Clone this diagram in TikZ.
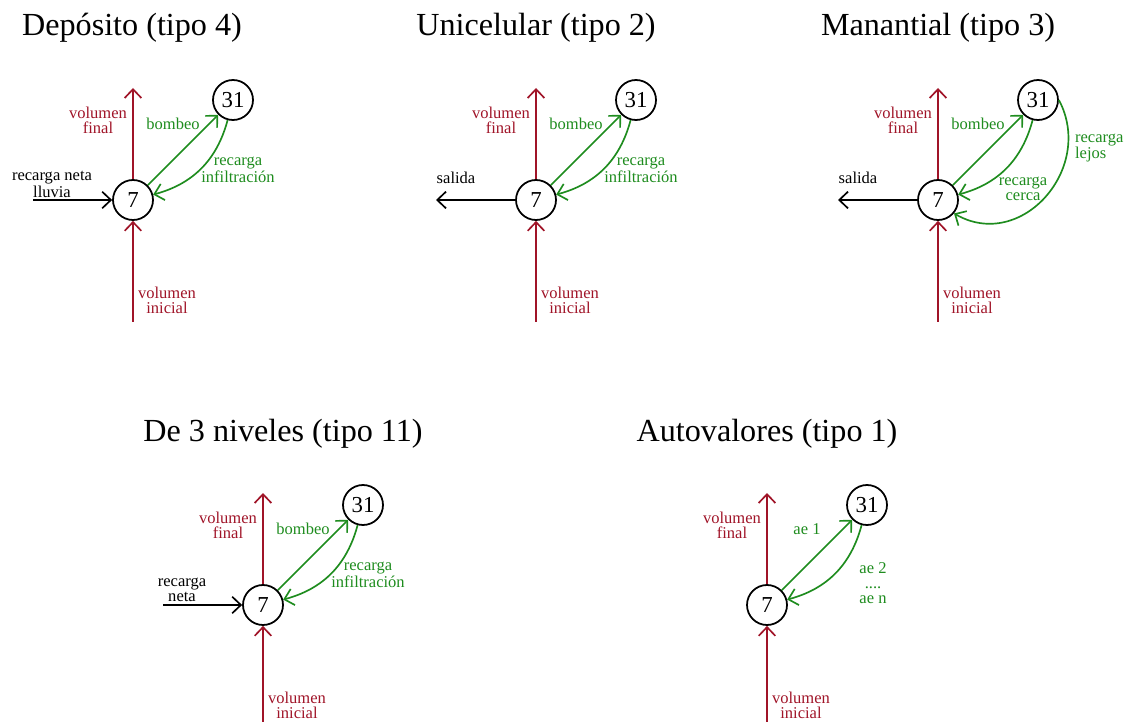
\documentclass[tikz,border=0pt]{standalone}
\usepackage{fontspec}
\setmainfont{Liberation Serif}
\usepackage{xcolor}
\usepackage{tikz}
\usetikzlibrary{positioning, arrows.meta, calc}
\definecolor{VolRed}{RGB}{160,20,40}
\definecolor{FlowGreen}{RGB}{30,140,30}
\tikzset{
  pozo/.style={circle, draw, line width=1pt, minimum size=0.8cm, inner sep=0pt,
    font=\fontsize{13}{14}\selectfont, fill=white},
  volarr/.style={-{Straight Barb[length=5pt,width=9.5pt]}, line width=0.95pt, VolRed},
  flowarr/.style={-{Straight Barb[length=5pt,width=9.5pt]}, line width=0.95pt, FlowGreen},
  netarr/.style={-{Straight Barb[length=5pt,width=9.5pt]}, line width=0.95pt, black},
  lab/.style={font=\fontsize{9.4}{8.5}\selectfont, align=center, inner sep=1pt},
  vollab/.style={lab, text=VolRed},
  flowlab/.style={lab, text=FlowGreen},
  ptitle/.style={font=\fontsize{18.3}{20}\selectfont, anchor=base, inner sep=0pt},
}

\begin{document}
\begin{tikzpicture}
  \useasboundingbox (0,0) rectangle (22.52,-14.44);
  % the five panels: common part
  \foreach \p/\x/\y/\t/\tx/\ua/\ub/\bx/\by in {
      dep/2.66/-4.0/{Depósito (tipo 4)}/-0.02/bombeo/{recarga\\infiltración}/2.10/0.60,
      uni/10.72/-4.0/{Unicelular (tipo 2)}/0/bombeo/{recarga\\infiltración}/2.10/0.60,
      man/18.76/-4.0/{Manantial (tipo 3)}/0/bombeo/{recarga\\cerca}/1.70/0.22,
      niv/5.26/-12.1/{De 3 niveles (tipo 11)}/0.40/bombeo/{recarga\\infiltración}/2.10/0.60,
      aut/15.34/-12.1/{Autovalores (tipo 1)}/0/{ae 1}/{ae 2\\....\\ae n}/2.12/0.44} {
    \begin{scope}[shift={(\x,\y)}]
      \node[ptitle] (\p-title) at (\tx,3.28) {\t};
      \coordinate (\p-ini) at (0,-2.44);
      \coordinate (\p-fin) at (0,2.24);
      \node[pozo] (\p-a) at (0,0) {7};
      \node[pozo] (\p-b) at (2,2) {31};
      \draw[volarr] (\p-ini) -- (\p-a);
      \draw[volarr] (\p-a) -- (\p-fin);
      \draw[flowarr] (\p-a) -- (\p-b);
      \draw[flowarr] (\p-b) to[bend left=30] (\p-a);
      \node[vollab] (\p-vf) at (-0.70,1.60) {volumen\\final};
      \node[vollab] (\p-vi) at (0.68,-2.00) {volumen\\inicial};
      \node[flowlab] (\p-up) at (0.80,1.52) {\ua};
      \node[flowlab] (\p-down) at (\bx,\by) {\ub};
    \end{scope}
  }
  % inflow from the left
  \foreach \p/\txt in {dep/{recarga neta\\lluvia}, niv/{recarga\\neta}} {
    \coordinate (\p-rec) at ($(\p-a)+(-2,0)$);
    \draw[netarr] (\p-rec) -- (\p-a);
    \node[lab] (\p-reclab) at ($(\p-a)+(-1.62,0.31)$) {\txt};
  }
  % outflow to the left
  \foreach \p in {uni, man} {
    \coordinate (\p-sal) at ($(\p-a)+(-2,0)$);
    \draw[netarr] (\p-a) -- (\p-sal);
    \node[lab] (\p-sallab) at ($(\p-a)+(-1.60,0.44)$) {salida};
  }
  % far recharge of the spring
  \draw[flowarr] (man-b.east) to[out=-62, in=-30, looseness=1.28] (man-a.-40);
  \node[flowlab, anchor=west, align=left] (man-lejos) at ($(man-a)+(2.70,1.04)$) {recarga\\lejos};
\end{tikzpicture}
\end{document}
